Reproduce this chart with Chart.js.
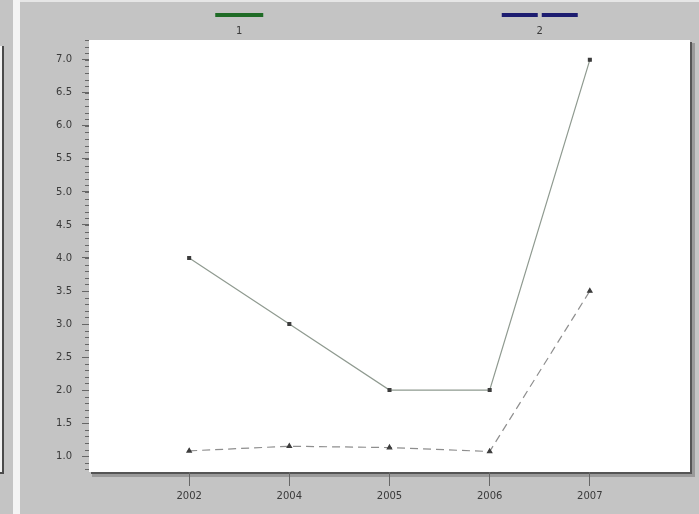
<!DOCTYPE html>
<html>
<head>
<meta charset="utf-8">
<script src="https://cdn.jsdelivr.net/npm/chart.js@4.4.1/dist/chart.umd.min.js"></script>
<style>
  html, body { margin: 0; padding: 0; background: #c4c4c4; }
  #wrap { width: 699px; height: 514px; position: relative; }
</style>
</head>
<body>
<div id="wrap"><canvas id="chart"></canvas></div>
<script>
// ─── Data ─────────────────────────────────────────────────────────────────
const years = ['2002', '2004', '2005', '2006', '2007'];
const series1 = [4.0, 3.0, 2.0, 2.0, 7.0];
const series2 = [1.08, 1.15, 1.13, 1.07, 3.5];
const seriesNames = ['1', '2'];
const yTicks = [1.0, 1.5, 2.0, 2.5, 3.0, 3.5, 4.0, 4.5, 5.0, 5.5, 6.0, 6.5, 7.0];

const PANEL = '#c4c4c4';
const TEXT = '#3a3a3a';

const toPoints = arr => arr.map((v, i) => ({ x: i + 1, y: v }));

// ─── Panel, plot shadow, minor ticks and legend ───────────────────────────
const panelPlugin = {
  id: 'panel',
  beforeDraw(chart) {
    const { ctx, chartArea: a, width, height } = chart;
    ctx.save();
    ctx.fillStyle = PANEL;
    ctx.fillRect(0, 0, width, height);
    // neighbouring panel edge on the far left
    ctx.fillStyle = '#f2f2f2';
    ctx.fillRect(0, 46, 2, 426);
    ctx.fillStyle = '#4a4a4a';
    ctx.fillRect(2, 46, 2, 428);
    ctx.fillRect(0, 472, 4, 2);
    ctx.fillStyle = '#f4f4f4';
    ctx.fillRect(13, 0, 7, height);
    ctx.fillStyle = '#e6e6e6';
    ctx.fillRect(20, 0, width - 20, 2);
    // plot box shadow
    ctx.fillStyle = '#9a9a9a';
    ctx.fillRect(a.left + 3, a.top + 3, a.width + 2, a.height + 2);
    ctx.fillStyle = '#555';
    ctx.fillRect(a.left + 2, a.top + 2, a.width, a.height);
    ctx.fillStyle = '#ffffff';
    ctx.fillRect(a.left, a.top, a.width, a.height);
    ctx.restore();
  },
  afterDraw(chart) {
    const { ctx, chartArea: a } = chart;
    const y = chart.scales.y;
    ctx.save();
    // minor ticks every 0.1
    ctx.strokeStyle = '#666';
    ctx.lineWidth = 1;
    for (let v = 0.8; v <= 7.3; v += 0.1) {
      const py = Math.round(y.getPixelForValue(v)) + 0.5;
      ctx.beginPath();
      ctx.moveTo(a.left - 4, py);
      ctx.lineTo(a.left, py);
      ctx.stroke();
    }
    // legend: swatch above, name below
    chart.data.datasets.forEach((ds, i) => {
      const cx = a.left + a.width * (i === 0 ? 0.25 : 0.75);
      ctx.strokeStyle = ds.legendColor;
      ctx.lineWidth = 4;
      ctx.setLineDash(ds.legendDash);
      ctx.beginPath();
      ctx.moveTo(cx - ds.legendWidth / 2, 15);
      ctx.lineTo(cx + ds.legendWidth / 2, 15);
      ctx.stroke();
      ctx.setLineDash([]);
      ctx.fillStyle = TEXT;
      ctx.font = '10px "DejaVu Sans"';
      ctx.textAlign = 'center';
      ctx.textBaseline = 'middle';
      ctx.fillText(ds.label, cx, 31);
    });
    ctx.restore();
  },
};

// ─── Chart ────────────────────────────────────────────────────────────────
new Chart(document.getElementById('chart'), {
  type: 'line',
  data: {
    datasets: [
      {
        label: seriesNames[0],
        data: toPoints(series1),
        borderColor: '#8f9a90',
        borderWidth: 1.2,
        pointStyle: 'rect',
        pointRadius: 2,
        pointBackgroundColor: '#3c3c3c',
        pointBorderColor: '#3c3c3c',
        legendColor: '#1f6b26',
        legendDash: [],
        legendWidth: 48,
      },
      {
        label: seriesNames[1],
        data: toPoints(series2),
        borderColor: '#8e8e8e',
        borderWidth: 1.2,
        borderDash: [8, 5],
        pointStyle: 'triangle',
        pointRadius: 2.5,
        pointBackgroundColor: '#3c3c3c',
        pointBorderColor: '#3c3c3c',
        legendColor: '#1c1c70',
        legendDash: [36, 4],
        legendWidth: 76,
      },
    ],
  },
  options: {
    responsive: true,
    maintainAspectRatio: false,
    animation: false,
    layout: { padding: { left: 0, right: 9, top: 40, bottom: 0 } },
    plugins: { legend: { display: false }, tooltip: { enabled: false } },
    scales: {
      x: {
        type: 'linear',
        min: 0,
        max: 6,
        afterBuildTicks: s => { s.ticks = years.map((_, i) => ({ value: i + 1 })); },
        afterFit: s => { s.height = 42; },
        ticks: {
          color: TEXT,
          font: { family: 'DejaVu Sans', size: 10 },
          padding: 4,
          maxRotation: 0,
          callback: v => years[v - 1] || '',
        },
        grid: { drawOnChartArea: false, tickLength: 14, color: '#666' },
        border: { display: false },
      },
      y: {
        type: 'linear',
        min: 0.76,
        max: 7.3,
        afterBuildTicks: s => { s.ticks = yTicks.map(v => ({ value: v })); },
        afterFit: s => { s.width = 89; },
        ticks: {
          color: TEXT,
          font: { family: 'DejaVu Sans', size: 10 },
          padding: 10,
          callback: v => Number(v).toFixed(1),
        },
        grid: { drawOnChartArea: false, tickLength: 7, color: '#666' },
        border: { display: false },
      },
    },
  },
  plugins: [panelPlugin],
});
</script>
</body>
</html>
